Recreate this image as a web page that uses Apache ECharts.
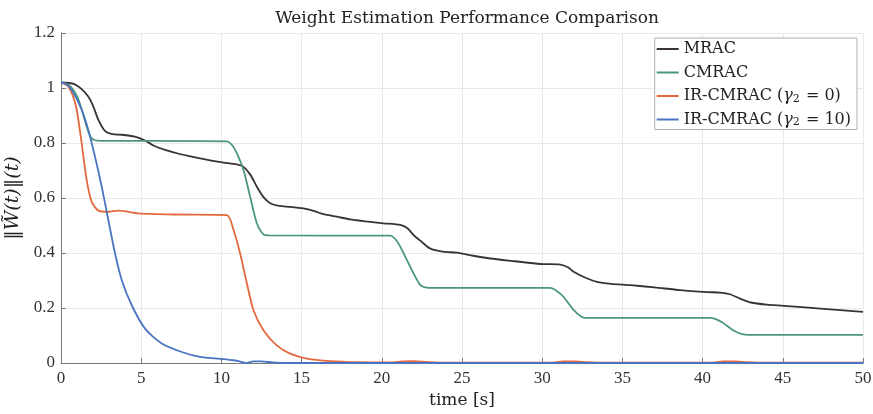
<!DOCTYPE html>
<html>
<head>
<meta charset="utf-8">
<script src="https://cdn.jsdelivr.net/npm/echarts@6/dist/echarts.min.js"></script>
<style>html,body{margin:0;padding:0;background:#fff}#c{width:873px;height:414px}</style>
</head>
<body>
<div id="c"></div>
<script>
const seriesNames = ['MRAC', 'CMRAC', 'IR-CMRAC (γ2 = 0)', 'IR-CMRAC (γ2 = 10)'];
const xTicks = [0, 5, 10, 15, 20, 25, 30, 35, 40, 45, 50];
const yTicks = [0, 0.2, 0.4, 0.6, 0.8, 1, 1.2];

const mracT = [0, 0.8, 1.3, 1.7, 2.0, 2.33, 2.74, 3.2, 3.79, 4.6, 5.24, 5.8, 6.49, 7.4, 8.36, 9.3, 10.13, 10.96, 11.37, 11.8, 12.21, 12.6, 13.04, 13.6, 14.29, 15.12, 15.8, 16.36, 17.2, 18.03, 19.0, 20.1, 21.15, 21.6, 21.98, 22.5, 23.0, 23.8, 24.68, 25.7, 26.76, 28.3, 29.88, 31.13, 31.6, 31.96, 32.7, 33.42, 34.3, 35.5, 37, 38.6, 40.3, 41.1, 41.7, 42.3, 43.0, 44, 45.06, 47.35, 50];
const mracW = [1.02, 1.015, 0.995, 0.969, 0.935, 0.884, 0.844, 0.832, 0.83, 0.823, 0.809, 0.79, 0.775, 0.76, 0.748, 0.737, 0.729, 0.722, 0.714, 0.685, 0.641, 0.605, 0.581, 0.571, 0.568, 0.562, 0.552, 0.541, 0.532, 0.522, 0.515, 0.508, 0.502, 0.49, 0.465, 0.44, 0.417, 0.405, 0.401, 0.39, 0.38, 0.37, 0.36, 0.358, 0.348, 0.332, 0.31, 0.295, 0.288, 0.283, 0.275, 0.265, 0.258, 0.256, 0.25, 0.235, 0.22, 0.212, 0.208, 0.198, 0.186];

const cmracT = [0, 0.5, 1.0, 1.3, 1.6, 1.85, 2.12, 2.5, 10.34, 10.7, 10.96, 11.38, 11.79, 12.21, 12.62, 13.0, 20.52, 20.85, 21.15, 21.77, 22.4, 22.8, 23.2, 30.5, 30.9, 31.34, 31.97, 32.58, 33.0, 40.5, 40.9, 41.3, 41.9, 42.4, 42.9, 50];
const cmracW = [1.02, 1.01, 0.97, 0.92, 0.86, 0.822, 0.81, 0.808, 0.806, 0.79, 0.763, 0.702, 0.605, 0.508, 0.468, 0.464, 0.463, 0.45, 0.423, 0.35, 0.283, 0.274, 0.273, 0.273, 0.262, 0.24, 0.192, 0.165, 0.164, 0.164, 0.158, 0.145, 0.119, 0.106, 0.102, 0.102];

const ir0T = [0, 0.3, 0.46, 0.75, 0.98, 1.29, 1.6, 1.91, 2.33, 2.95, 3.58, 4.82, 7, 10.34, 10.76, 11.17, 11.59, 12, 12.62, 13.45, 14.29, 15.33, 16.78, 18.5, 20.5, 21.3, 22, 22.8, 24, 30.5, 31.3, 32, 32.8, 34, 40.5, 41.3, 42, 42.8, 44, 50];
const ir0W = [1.02, 1.012, 1.005, 0.97, 0.921, 0.799, 0.666, 0.587, 0.554, 0.55, 0.554, 0.544, 0.54, 0.538, 0.483, 0.398, 0.289, 0.192, 0.119, 0.064, 0.034, 0.016, 0.007, 0.003, 0.002, 0.006, 0.007, 0.004, 0.001, 0.001, 0.006, 0.006, 0.003, 0.001, 0.001, 0.006, 0.006, 0.003, 0.001, 0.001];

const ir10T = [0, 0.3, 0.67, 1.29, 1.7, 2.12, 2.54, 2.95, 3.37, 3.79, 4.41, 5.24, 6.28, 7.53, 8.67, 9.92, 10.75, 11.17, 11.58, 12.0, 12.5, 13.2, 14, 50];
const ir10W = [1.02, 1.015, 0.993, 0.921, 0.848, 0.75, 0.641, 0.52, 0.398, 0.301, 0.21, 0.125, 0.071, 0.04, 0.022, 0.015, 0.01, 0.005, 0.0, 0.006, 0.006, 0.002, 0, 0];

const colors = ['#3a3236', '#4b977a', '#e4683d', '#4a74c2'];

function pairs(t, w) { return t.map((v, i) => [v, w[i]]); }

const SERIF = '"Liberation Serif", serif';
const DSERIF = '"DejaVu Serif", serif';
const chart = echarts.init(document.getElementById('c'), null, { renderer: 'canvas' });
const data = [pairs(mracT, mracW), pairs(cmracT, cmracW), pairs(ir0T, ir0W), pairs(ir10T, ir10W)];

function legendLabel(name) {
  const m = name.match(/^(.*)\(γ2 = (\d+)\)$/);
  if (!m) return '{n|' + name + '}';
  return '{n|' + m[1] + '(}{g|γ}{s|2}{n| = ' + m[2] + ')}';
}

chart.setOption({
  animation: false,
  backgroundColor: '#fff',
  title: {
    text: 'Weight Estimation Performance Comparison',
    left: 462, top: 5, textAlign: 'center',
    textStyle: { fontFamily: DSERIF, fontSize: 17, fontWeight: 'normal', color: '#222' }
  },
  grid: { left: 61, right: 10, top: 33, bottom: 51, outerBoundsMode: 'none' },
  legend: {
    orient: 'vertical', right: 16, top: 38,
    data: seriesNames,
    icon: 'rect', itemWidth: 22, itemHeight: 2, itemGap: 5.5,
    padding: [2, 6, 1, 2],
    borderColor: '#b0b0b0', borderWidth: 1, backgroundColor: '#fff',
    formatter: legendLabel,
    textStyle: {
      fontFamily: DSERIF, fontSize: 16, color: '#222', lineHeight: 18,
      rich: {
        n: { fontFamily: DSERIF, fontSize: 16, color: '#222', lineHeight: 18 },
        g: { fontFamily: DSERIF, fontSize: 16, fontStyle: 'italic', color: '#222', lineHeight: 18 },
        s: { fontFamily: DSERIF, fontSize: 11, color: '#222', lineHeight: 18, padding: [6, 1, 0, 0] }
      }
    }
  },
  xAxis: {
    type: 'value', min: 0, max: 50, interval: 5,
    name: 'time [s]', nameLocation: 'middle', nameGap: 27,
    nameTextStyle: { fontFamily: DSERIF, fontSize: 17, color: '#222' },
    axisLine: { lineStyle: { color: '#7a7a7a', width: 1 } },
    axisTick: { inside: true, length: 5, lineStyle: { color: '#7a7a7a' } },
    axisLabel: { fontFamily: SERIF, fontSize: 17, color: '#333', margin: 7 },
    splitLine: { show: true, lineStyle: { color: '#e9e9e9', width: 1 } }
  },
  yAxis: {
    type: 'value', min: 0, max: 1.2, interval: 0.2,
    name: '‖W̃(t)‖(t)', nameLocation: 'middle', nameGap: 31,
    nameTextStyle: { fontFamily: DSERIF, fontSize: 19, fontStyle: 'italic', color: '#222' },
    axisLine: { show: true, lineStyle: { color: '#7a7a7a', width: 1 } },
    axisTick: { show: true, inside: true, length: 5, lineStyle: { color: '#7a7a7a' } },
    axisLabel: { fontFamily: SERIF, fontSize: 17, color: '#333', margin: 6 },
    splitLine: { show: true, lineStyle: { color: '#e9e9e9', width: 1 } }
  },
  series: seriesNames.map((n, i) => ({
    name: n, type: 'line', data: data[i],
    showSymbol: false, smooth: 0.25,
    lineStyle: { color: colors[i], width: 1.8 },
    itemStyle: { color: colors[i] },
    z: 2 + i
  }))
});
</script>
</body>
</html>
